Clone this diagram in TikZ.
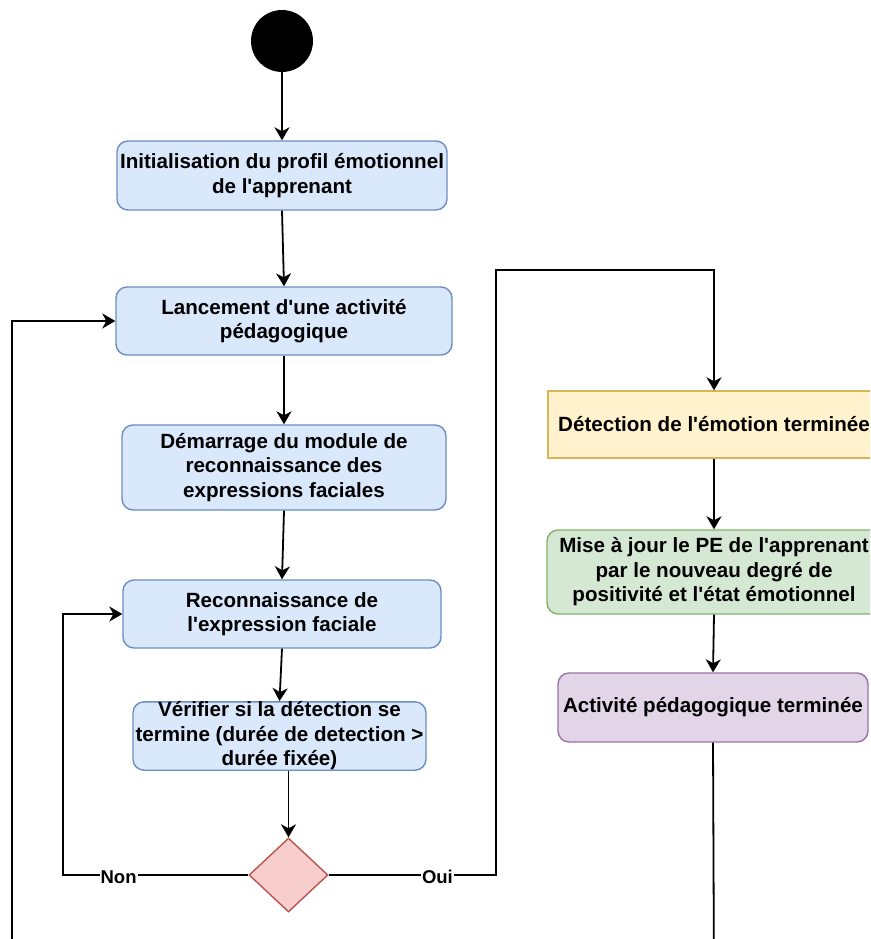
\documentclass[tikz,border=0pt]{standalone}
\usepackage{fontspec}
\setmainfont{Liberation Sans}
\usetikzlibrary{arrows.meta,shapes.geometric}

\definecolor{bluefill}{HTML}{DAE8FC}
\definecolor{bluedraw}{HTML}{6C8EBF}
\definecolor{redfill}{HTML}{F8CECC}
\definecolor{reddraw}{HTML}{B85450}
\definecolor{yelfill}{HTML}{FFF2CC}
\definecolor{yeldraw}{HTML}{D6B656}
\definecolor{grnfill}{HTML}{D5E8D4}
\definecolor{grndraw}{HTML}{82B366}
\definecolor{purfill}{HTML}{E1D5E7}
\definecolor{purdraw}{HTML}{9673A6}

% straight apostrophe
\newcommand{\ap}{\textquotesingle}

\tikzset{
  box/.style={draw=bluedraw, fill=bluefill, line width=1.4pt, rounded corners=11pt,
    align=center, inner sep=0pt,
    font={\fontsize{20.6}{24.5}\selectfont\bfseries}},
  yelbox/.style={box, draw=yeldraw, fill=yelfill, rounded corners=0pt},
  grnbox/.style={box, draw=grndraw, fill=grnfill},
  purbox/.style={box, draw=purdraw, fill=purfill},
  decision/.style={diamond, draw=reddraw, fill=redfill, line width=1.4pt, inner sep=0pt},
  flow/.style={line width=1.8pt, -{Stealth[length=13pt,width=15pt,inset=4pt]}},
  lbl/.style={fill=white, inner sep=1pt, font={\fontsize{18.5}{20}\selectfont\bfseries}}
}

\begin{document}
\begin{tikzpicture}[x=1pt,y=-1pt]
\useasboundingbox (0,0) rectangle (870,939);
\clip (0,0) rectangle (870,939);

% start
\node[circle, fill=black, minimum size=62pt, inner sep=0pt] (start) at (282,41) {};

% main column
\node[box, minimum width=330pt, minimum height=69pt] (b1) at (282,175.5)
  {Initialisation du profil émotionnel\\de l\ap apprenant};
\node[box, minimum width=336pt, minimum height=68pt] (b2) at (284,321)
  {Lancement d\ap une activité\\pédagogique};
\node[box, minimum width=324pt, minimum height=85pt] (b3) at (284,467.5)
  {Démarrage du module de\\reconnaissance des\\expressions faciales};
\node[box, minimum width=318pt, minimum height=68pt] (b4) at (282,614)
  {Reconnaissance de\\l\ap expression faciale};
\node[box, minimum width=293pt, minimum height=68pt] (b5) at (279.5,736)
  {Vérifier si la détection se\\termine (durée de detection >\\durée fixée)};
\node[decision, minimum width=79pt, minimum height=74pt] (dia) at (288.5,875) {};

% right column
\node[yelbox, minimum width=332pt, minimum height=67pt] (b6) at (714,424.5)
  {Détection de l\ap émotion terminée};
\node[grnbox, minimum width=334pt, minimum height=84pt] (b7) at (714,572)
  {Mise à jour le PE de l\ap apprenant\\par le nouveau degré de\\positivité et l\ap état émotionnel};
\node[purbox, minimum width=310pt, minimum height=69pt] (b8) at (713,707.5)
  {Activité pédagogique terminée};

% routing points
\coordinate (nonx) at (63,875);
\coordinate (ouix) at (496,875);
\coordinate (ouitop) at (714,270);
\coordinate (loopr) at (714,980);
\coordinate (loopl) at (12,980);

% connectors
\draw[flow] (start) -- (b1);
\draw[flow] (b1.south) -- (b2.north);
\draw[flow] (b2.south) -- (b3.north);
\draw[flow] (b3.south) -- (b4.north);
\draw[flow] (b4.south) -- (b5.north);
\draw[flow] (b5.south -| dia.north) -- (dia.north);
\draw[flow] (dia.west) -- node[lbl, pos=0.7, yshift=-2pt] {Non} (nonx) |- (b4.west);
\draw[flow] (dia.east) -- node[lbl, pos=0.65, yshift=-2pt] {Oui} (ouix) |- (ouitop) -- (b6.north);
\draw[flow] (b6.south) -- (b7.north);
\draw[flow] (b7.south) -- (b8.north);
\draw[flow] (b8.south) -- (loopr) -- (loopl) |- (b2.west);

\end{tikzpicture}
\end{document}
